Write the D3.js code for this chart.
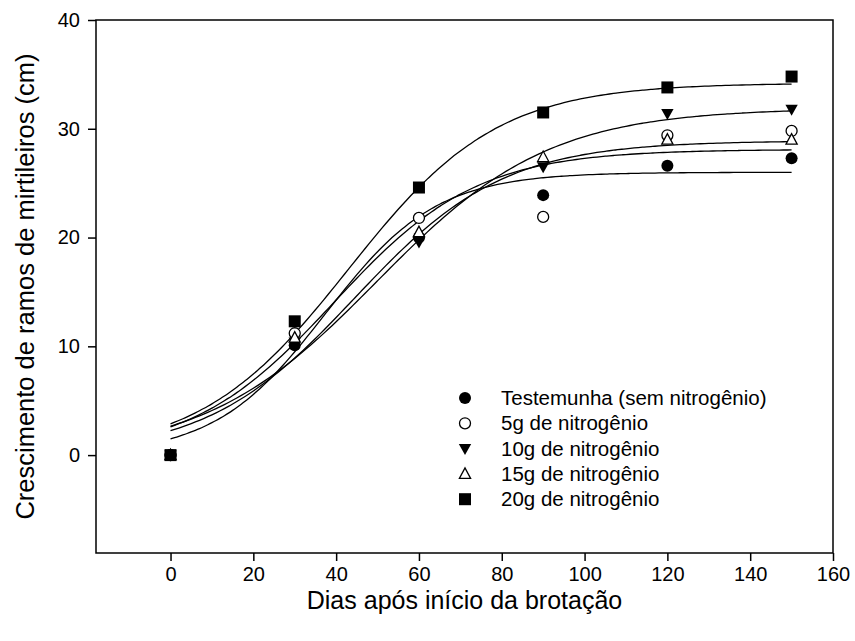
<!DOCTYPE html>
<html>
<head>
<meta charset="utf-8">
<script src="https://cdn.jsdelivr.net/npm/d3@7"></script>
<style>
  html, body { margin: 0; padding: 0; background: #fff; }
  svg text { font-family: "Liberation Sans", Arial, sans-serif; fill: #000; }
</style>
</head>
<body>
<svg id="chart" width="855" height="641"></svg>
<script>
// ---- data ----
const days = [0, 30, 60, 90, 120, 150];
const seriesNames = ["Testemunha (sem nitrogênio)", "5g de nitrogênio", "10g de nitrogênio", "15g de nitrogênio", "20g de nitrogênio"];
const testemunha = [0, 10.1, 20.0, 23.9, 26.6, 27.3];
const n5g  = [0, 11.2, 21.8, 21.9, 29.4, 29.8];
const n10g = [0, 10.4, 19.6, 26.5, 31.4, 31.8];
const n15g = [0, 10.8, 20.5, 27.4, 29.0, 29.0];
const n20g = [0, 12.3, 24.6, 31.5, 33.8, 34.8];
// fitted sigmoid parameters (y = a / (1 + exp(-(x - x0) / b)))
const fitA  = [26.0, 28.1, 31.9, 28.9, 34.2];
const fitX0 = [37.4, 39.5, 49.8, 44.5, 43.0];
const fitB  = [13.4, 17.3, 20.8, 18.0, 18.0];
const xTicks = [0, 20, 40, 60, 80, 100, 120, 140, 160];
const yTicks = [0, 10, 20, 30, 40];
const symbols = ["circleFilled", "circleOpen", "triDown", "triUp", "square"];

const values = [testemunha, n5g, n10g, n15g, n20g];

const svg = d3.select("#chart");
const pLeft = 96, pRight = 833, pTop = 20, pBottom = 553;

const x = d3.scaleLinear().domain([-18, 160]).range([pLeft, pRight]);
const y = d3.scaleLinear().domain([-9, 40]).range([pBottom, pTop]);

// frame
svg.append("rect").attr("x", pLeft).attr("y", pTop).attr("width", pRight - pLeft).attr("height", pBottom - pTop)
  .attr("fill", "none").attr("stroke", "#000").attr("stroke-width", 1.5);

// axes
const xAxis = svg.append("g").attr("transform", `translate(0,${pBottom})`)
  .call(d3.axisBottom(x).tickValues(xTicks).tickSize(8).tickPadding(6).tickFormat(d3.format("d")));
const yAxis = svg.append("g").attr("transform", `translate(${pLeft},0)`)
  .call(d3.axisLeft(y).tickValues(yTicks).tickSize(8).tickPadding(8).tickFormat(d3.format("d")));
[xAxis, yAxis].forEach(g => {
  g.select(".domain").remove();
  g.selectAll(".tick line").attr("stroke", "#000").attr("stroke-width", 1.5);
  g.selectAll(".tick text").attr("font-size", 20).attr("font-family", "Liberation Sans, Arial, sans-serif");
});

// axis titles
svg.append("text").attr("x", (pLeft + pRight) / 2).attr("y", 609).attr("text-anchor", "middle")
  .attr("font-size", 25).text("Dias após início da brotação");
svg.append("text").attr("transform", `translate(34,${(pTop + pBottom) / 2}) rotate(-90)`).attr("text-anchor", "middle")
  .attr("font-size", 25.5).text("Crescimento de ramos de mirtileiros (cm)");

// fitted curves
const curveXs = d3.range(0, 150.5, 1);
const line = d3.line().x(d => x(d[0])).y(d => y(d[1])).curve(d3.curveMonotoneX);
fitA.forEach((a, i) => {
  const pts = curveXs.map(t => [t, a / (1 + Math.exp(-(t - fitX0[i]) / fitB[i]))]);
  svg.append("path").attr("d", line(pts)).attr("fill", "none").attr("stroke", "#000").attr("stroke-width", 1.3);
});

// markers
function drawMarker(g, type, cx, cy) {
  const s = 6.2;
  if (type === "circleFilled") {
    g.append("circle").attr("cx", cx).attr("cy", cy).attr("r", 6).attr("fill", "#000");
  } else if (type === "circleOpen") {
    g.append("circle").attr("cx", cx).attr("cy", cy).attr("r", 5.5).attr("fill", "#fff").attr("stroke", "#000").attr("stroke-width", 1.3);
  } else if (type === "triDown") {
    g.append("path").attr("d", `M${cx - s},${cy - 4.5}L${cx + s},${cy - 4.5}L${cx},${cy + 6.5}Z`).attr("fill", "#000");
  } else if (type === "triUp") {
    g.append("path").attr("d", `M${cx - 5.6},${cy + 4.5}L${cx + 5.6},${cy + 4.5}L${cx},${cy - 6}Z`).attr("fill", "#fff").attr("stroke", "#000").attr("stroke-width", 1.3);
  } else if (type === "square") {
    g.append("rect").attr("x", cx - 6).attr("y", cy - 6).attr("width", 12).attr("height", 12).attr("fill", "#000");
  }
}

const mk = svg.append("g");
values.forEach((vals, i) => {
  vals.forEach((v, j) => drawMarker(mk, symbols[i], x(days[j]), y(v)));
});

// legend
const leg = svg.append("g");
seriesNames.forEach((name, i) => {
  const cy = 398 + i * 25.3;
  drawMarker(leg, symbols[i], 465, cy);
  leg.append("text").attr("x", 501).attr("y", cy).attr("dy", "0.35em").attr("font-size", 20.5).text(name);
});
</script>
</body>
</html>
